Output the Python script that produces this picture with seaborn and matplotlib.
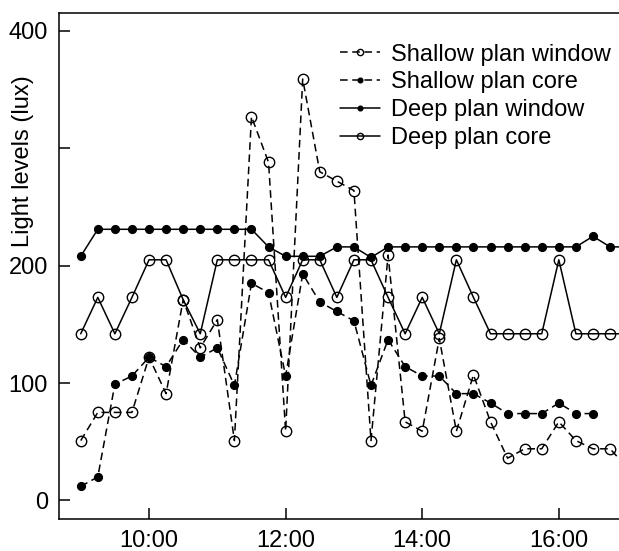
import matplotlib
matplotlib.use("Agg")
import matplotlib.pyplot as plt
import seaborn as sns
import numpy as np
import pandas as pd

# ---- data ----
times = ["9:00", "9:15", "9:30", "9:45", "10:00", "10:15", "10:30", "10:45",
         "11:00", "11:15", "11:30", "11:45", "12:00", "12:15", "12:30", "12:45",
         "13:00", "13:15", "13:30", "13:45", "14:00", "14:15", "14:30", "14:45",
         "15:00", "15:15", "15:30", "15:45", "16:00", "16:15", "16:30", "16:45",
         "17:00"]

shallow_window = [51, 75, 75, 75, 122, 91, 171, 130, 154, 51, 327, 288, 59, 359,
                  280, 272, 264, 51, 209, 67, 59, 138, 59, 107, 67, 36, 44, 44,
                  67, 51, 44, 44, 28]
shallow_core = [12, 20, 99, 106, 122, 114, 137, 122, 130, 98, 185, 177, 106, 193,
                169, 161, 153, 98, 137, 114, 106, 106, 91, 91, 83, 74, 74, 74,
                83, 74, 74, np.nan, np.nan]
deep_window = [208, 231, 231, 231, 231, 231, 231, 231, 231, 231, 231, 216, 208, 208,
               208, 216, 216, 207, 216, 216, 216, 216, 216, 216, 216, 216, 216, 216,
               216, 216, 225, 216, 216]
deep_core = [142, 173, 142, 173, 205, 205, 171, 142, 205, 205, 205, 205, 173, 205,
             205, 173, 205, 205, 173, 142, 173, 142, 205, 173, 142, 142, 142, 142,
             205, 142, 142, 142, 142]

x_ticks = [10, 12, 14, 16]
x_tick_labels = ["10:00", "12:00", "14:00", "16:00"]
y_ticks = [0, 100, 200, 300, 400]
y_tick_labels = ["0", "100", "200", "", "400"]

labels = ["Shallow plan window", "Shallow plan core", "Deep plan window", "Deep plan core"]


def to_hours(t):
    h, m = t.split(":")
    return int(h) + int(m) / 60.0


hours = [to_hours(t) for t in times]

# ---- style ----
sns.set_style("ticks")
plt.rcParams["font.family"] = ["Liberation Sans", "DejaVu Sans"]
plt.rcParams["text.color"] = "black"
plt.rcParams["axes.labelcolor"] = "black"
plt.rcParams["xtick.color"] = "black"
plt.rcParams["ytick.color"] = "black"

W, H = 619, 551
fig = plt.figure(figsize=(W / 100, H / 100), dpi=100)
ax = fig.add_axes([59 / W, (H - 519) / H, 1 - 59 / W, (519 - 12.7) / H])

lw = 1.1
dash = (0, (5, 3))
series = [
    (shallow_window, dash, "none", 7.5),
    (shallow_core, dash, "black", 5.6),
    (deep_window, "-", "black", 5.6),
    (deep_core, "-", "none", 7.5),
]

for (vals, ls, mfc, ms), lab in zip(series, labels):
    df = pd.DataFrame({"time": hours, "lux": vals})
    sns.lineplot(data=df, x="time", y="lux", ax=ax, color="black",
                 linestyle=ls, linewidth=lw, marker="o", markersize=ms,
                 markerfacecolor=mfc, markeredgecolor="black",
                 markeredgewidth=1.0, label=lab, errorbar=None,
                 estimator=None, sort=False)

ax.set_xlim(8.682, 16.881)
ax.set_ylim(-15.8, 415.5)
ax.set_xticks(x_ticks)
ax.set_xticklabels(x_tick_labels)
ax.set_yticks(y_ticks)
ax.set_yticklabels(y_tick_labels)
ax.set_xlabel("")
ax.set_ylabel("Light levels (lux)", fontsize=17, color="black")
ax.yaxis.set_label_coords(-0.045, 0.707)

ax.tick_params(axis="both", direction="in", length=8, width=1.1,
               labelsize=17, pad=8, color="black", labelcolor="black")
for s in ["top", "left", "bottom"]:
    ax.spines[s].set_linewidth(1.1)
    ax.spines[s].set_color("black")
ax.spines["right"].set_visible(False)

leg = ax.legend(loc="upper left", bbox_to_anchor=(0.502, 0.939), frameon=False,
                fontsize=17, borderaxespad=0, borderpad=0, handlelength=1.7,
                handletextpad=0.45, labelspacing=0.25, markerscale=0.6)
for txt in leg.get_texts():
    txt.set_color("black")

fig.savefig("out.png", dpi=100)
